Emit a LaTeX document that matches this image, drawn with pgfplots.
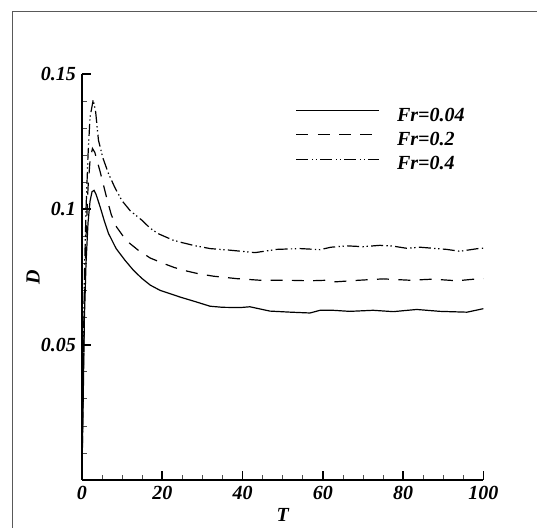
\documentclass[border=0pt]{standalone}
\usepackage{fontspec}
\setmainfont{Liberation Serif}
\usepackage{pgfplots}
\pgfplotsset{compat=1.18}
\newcommand{\lf}{\fontsize{15}{17}\selectfont\bfseries\itshape}

\begin{document}
\begin{tikzpicture}
\begin{axis}[name=ax, at={(0,0)}, anchor=south west,
  scale only axis, width=301.1pt, height=304.5pt,
  xmin=0, xmax=100, ymin=0, ymax=0.15,
  axis lines=left,
  axis line style={-, line width=1.4pt},
  xtick={0,20,40,60,80,100},
  xticklabels={0,20,40,60,80,100},
  minor xtick={5,10,15,25,30,35,45,50,55,65,70,75,85,90,95},
  ytick={0.05,0.1,0.15},
  yticklabels={0.05,0.1,0.15},
  minor ytick={0.01,0.02,0.03,0.04,0.06,0.07,0.08,0.09,0.11,0.12,0.13,0.14},
  tick align=inside,
  major tick length=6.5pt, minor tick length=3.5pt,
  major tick style={line width=1.3pt, black},
  minor tick style={line width=0.5pt, black!70},
  tick label style={font=\lf},
  xticklabel style={yshift=-1pt},
  yticklabel style={xshift=-1pt},
  xlabel={T}, ylabel={D},
  every axis x label/.style={at={(axis description cs:0.5,-0.0854)}, anchor=center, font=\lf},
  every axis y label/.style={at={(axis description cs:-0.122,0.5)}, anchor=center, rotate=90, font=\lf},
  legend style={draw=none, fill=none, at={(axis description cs:0.522,0.924)}, anchor=north west,
    font=\lf, row sep=5.3pt, nodes={inner sep=0pt, text height=10pt, text depth=3pt}},
  legend cell align=left,
  legend image code/.code={\draw[#1] (0pt,4.5pt) -- (62pt,4.5pt);},
]
\addplot[black, solid, line width=0.9pt, mark=none] coordinates {(0,0.003)(0.3,0.03)(0.6,0.06)(1.0,0.08)(1.5,0.095)(2.0,0.103)(2.5,0.1065)(3.0,0.107)(3.5,0.1055)(4.5,0.101)(5.5,0.096)(6.6,0.0911)(8.5,0.0855)(10.7,0.0812)(12.8,0.0775)(14.9,0.0745)(17,0.072)(19.4,0.0701)(22,0.0688)(24.4,0.0676)(28,0.066)(31.9,0.0642)(35,0.0638)(39.4,0.0637)(41.8,0.064)(44,0.0633)(46.8,0.0624)(52,0.062)(56.8,0.0617)(59.3,0.0627)(62.5,0.0627)(66.7,0.0623)(72.5,0.0627)(77.5,0.0622)(83.4,0.063)(89.2,0.0623)(95.9,0.062)(100,0.0633)};
\addlegendentry{\hspace*{13pt}Fr=0.04}
\addplot[black, line width=0.9pt, mark=none, dash pattern=on 9pt off 7pt] coordinates {(0,0.003)(0.3,0.035)(0.6,0.065)(1.0,0.09)(1.5,0.108)(2.0,0.118)(2.6,0.1225)(3.2,0.121)(4.5,0.114)(6.1,0.1045)(7.3,0.098)(8.6,0.0935)(11,0.0885)(14,0.0849)(17,0.082)(20.3,0.080)(23,0.0785)(26.1,0.0772)(29,0.0762)(32.7,0.0753)(38.5,0.0744)(44.3,0.0738)(51,0.0738)(56.8,0.0736)(61,0.0738)(63,0.0732)(69,0.0738)(75,0.0743)(81.7,0.0738)(87.4,0.0742)(93.4,0.0736)(99.1,0.0744)(100,0.0744)};
\addlegendentry{\hspace*{13pt}Fr=0.2}
\addplot[black, line width=0.9pt, mark=none, dash pattern=on 9pt off 2.5pt on 1pt off 2pt on 1pt off 2.5pt] coordinates {(0,0.003)(0.3,0.04)(0.6,0.075)(1.0,0.1)(1.5,0.12)(2.0,0.134)(2.8,0.1405)(3.4,0.136)(4.1,0.1255)(5.2,0.119)(6.6,0.1132)(8.2,0.108)(9.9,0.1033)(12,0.0995)(14.9,0.096)(17,0.093)(19,0.091)(22.7,0.0886)(24.4,0.0879)(28,0.0866)(31.9,0.0855)(36.9,0.0849)(43.1,0.084)(48.5,0.0852)(54.3,0.0855)(59.3,0.0851)(62,0.086)(66,0.0865)(70,0.0862)(74.2,0.0867)(77.5,0.0864)(80.9,0.0856)(84.2,0.086)(90.8,0.0852)(94.1,0.0845)(99.1,0.0856)(100,0.0856)};
\addlegendentry{\hspace*{13pt}Fr=0.4}
\end{axis}
\draw[black!65, line width=0.7pt] (-52.5pt,-36pt) -- (-52.5pt,351.75pt) -- (341.25pt,351.75pt);
\pgfresetboundingbox
\path[use as bounding box] (-61.5pt,-36pt) rectangle (341.25pt,360pt);
\end{tikzpicture}
\end{document}
